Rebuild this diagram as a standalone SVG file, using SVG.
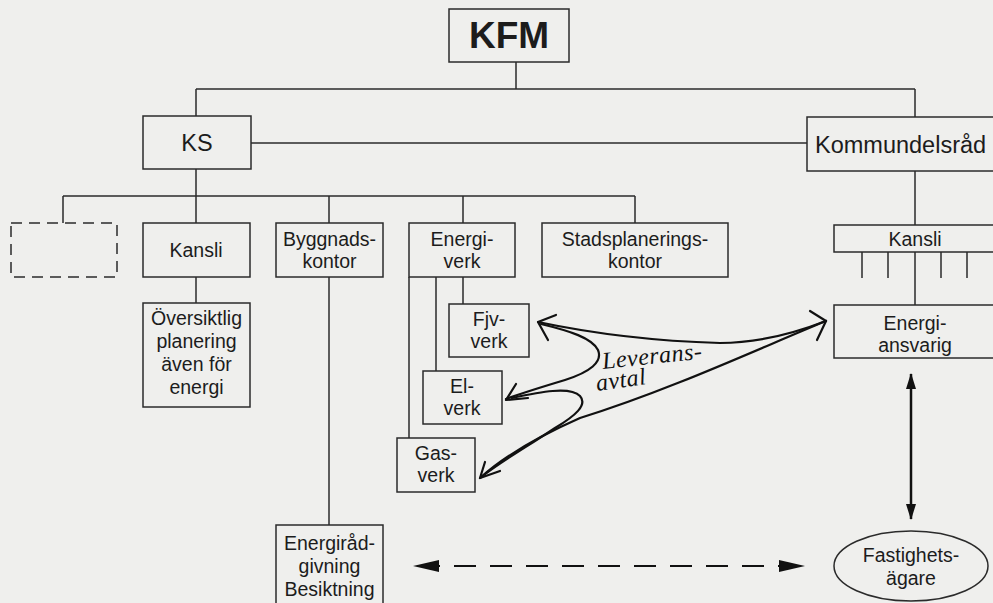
<svg xmlns="http://www.w3.org/2000/svg" width="993" height="603" viewBox="0 0 993 603">
<defs>
<style>
.bx{fill:none;stroke:#2b2b2b;stroke-width:1.5}
.ln{fill:none;stroke:#2b2b2b;stroke-width:1.5}
.t{font-family:"Liberation Sans",Arial,sans-serif;font-size:19.5px;fill:#1c1c1c;text-anchor:middle}
.big{font-size:23.5px}
.hand{fill:none;stroke:#111;stroke-width:2.2;stroke-linecap:round;stroke-linejoin:round}
.ht{font-family:"Liberation Serif","DejaVu Serif",serif;font-style:italic;font-size:24px;letter-spacing:0.5px;fill:#111}
</style>
<marker id="ah" viewBox="0 0 16 10" refX="15" refY="5" markerWidth="16" markerHeight="10" markerUnits="userSpaceOnUse" orient="auto-start-reverse"><path d="M0,0 L16,5 L0,10 z" fill="#111"/></marker>
<marker id="ah2" viewBox="0 0 26 12" refX="25" refY="6" markerWidth="26" markerHeight="12" markerUnits="userSpaceOnUse" orient="auto-start-reverse"><path d="M0,0 L26,6 L0,12 z" fill="#111"/></marker>
</defs>
<rect x="0" y="0" width="993" height="603" fill="#efefed"/>

<g id="connectors">
<path class="ln" d="M516 62 V89 M196 89 H915 M196 89 V116 M915 89 V117"/>
<path class="ln" d="M251 143 H807"/>
<path class="ln" d="M196 169 V196 M63 196 H635 M63 196 V223 M196 196 V223 M329 196 V223 M463 196 V223 M635 196 V223"/>
<path class="ln" d="M196 277 V303"/>
<path class="ln" d="M329 277 V525"/>
<path class="ln" d="M463 277 V304 M436 277 V371 M409 277 V438"/>
<path class="ln" d="M915 171 V225 M915 252 V305"/>
<line x1="911" y1="374" x2="911" y2="519" stroke="#111" stroke-width="2.5" marker-start="url(#ah)" marker-end="url(#ah)"/>
<line x1="414" y1="566" x2="804" y2="566" stroke="#111" stroke-width="2" stroke-dasharray="22 14" stroke-dashoffset="-4" marker-start="url(#ah2)" marker-end="url(#ah2)"/>
<g id="leveransavtal">
<path class="hand" d="M538 322 C590 333 650 341 720 343 C760 343 795 333 826 321"/>
<path class="hand" d="M556 315 L538 322 L548 340"/>
<path class="hand" d="M810 311 L826 321 L817 340"/>
<path class="hand" d="M826 321 C760 348 670 390 580 418 C530 440 500 460 480 478"/>
<path class="hand" d="M541 324 C570 331 592 338 598 350 C603 362 590 372 565 380 C545 386 525 392 506 399"/>
<path class="hand" d="M516 384 L506 400 L528 398"/>
<path class="hand" d="M512 398 C540 392 570 386 580 396 C588 405 575 416 555 428 C525 448 500 462 480 478"/>
<path class="hand" d="M485 462 L480 478 L500 471"/>
<text class="ht" transform="translate(603 369) rotate(-6)">Leverans-</text>
<text class="ht" transform="translate(597 391) rotate(-8)">avtal</text>
</g>
</g>

<g id="kfm"><rect class="bx" x="449" y="9" width="120" height="53"/><text class="t" x="509" y="48" style="font-size:37px;font-weight:bold">KFM</text></g>
<g id="ks"><rect class="bx" x="143" y="116" width="108" height="53"/><text class="t big" x="197" y="151">KS</text></g>
<g id="kommundelsrad"><rect class="bx" x="807" y="117" width="200" height="54"/><text class="t big" x="815" y="153" style="text-anchor:start">Kommundelsråd</text></g>
<g id="tom"><rect class="bx" x="11" y="223" width="106" height="54" stroke-dasharray="11 7"/></g>
<g id="kansli"><rect class="bx" x="143" y="223" width="107" height="54"/><text class="t" x="196" y="257">Kansli</text></g>
<g id="byggnadskontor"><rect class="bx" x="276" y="223" width="107" height="54"/><text class="t" x="329.5" y="246">Byggnads-</text><text class="t" x="329.5" y="268">kontor</text></g>
<g id="energiverk"><rect class="bx" x="409" y="223" width="106" height="54"/><text class="t" x="462" y="246">Energi-</text><text class="t" x="462" y="268">verk</text></g>
<g id="stadsplaneringskontor"><rect class="bx" x="542" y="223" width="186" height="54"/><text class="t" x="635" y="246">Stadsplanerings-</text><text class="t" x="635" y="268">kontor</text></g>
<g id="kansli2"><path class="ln" d="M1000 225 H834 V252 H1000 M862 252 V278 M888 252 V278 M941 252 V278 M967 252 V278"/><text class="t" x="915" y="246">Kansli</text></g>
<g id="oversiktlig"><rect class="bx" x="143" y="303" width="107" height="104"/><text class="t" x="196.5" y="325">Översiktlig</text><text class="t" x="196.5" y="348">planering</text><text class="t" x="196.5" y="371">även för</text><text class="t" x="196.5" y="394">energi</text></g>
<g id="fjvverk"><rect class="bx" x="449" y="304" width="80" height="53"/><text class="t" x="489" y="326">Fjv-</text><text class="t" x="489" y="348">verk</text></g>
<g id="elverk"><rect class="bx" x="423" y="371" width="79" height="53"/><text class="t" x="462" y="393">El-</text><text class="t" x="462" y="415">verk</text></g>
<g id="gasverk"><rect class="bx" x="397" y="438" width="78" height="54"/><text class="t" x="436" y="460">Gas-</text><text class="t" x="436" y="482">verk</text></g>
<g id="energiansvarig"><rect class="bx" x="834" y="305" width="170" height="53"/><text class="t" x="915" y="330">Energi-</text><text class="t" x="915" y="352">ansvarig</text></g>
<g id="energiradgivning"><rect class="bx" x="276" y="525" width="107" height="90"/><text class="t" x="329.5" y="550">Energiråd-</text><text class="t" x="329.5" y="573">givning</text><text class="t" x="329.5" y="596">Besiktning</text></g>
<g id="fastighetsagare"><ellipse class="bx" cx="911" cy="566" rx="77" ry="35"/><text class="t" x="911" y="562">Fastighets-</text><text class="t" x="911" y="585">ägare</text></g>
</svg>
